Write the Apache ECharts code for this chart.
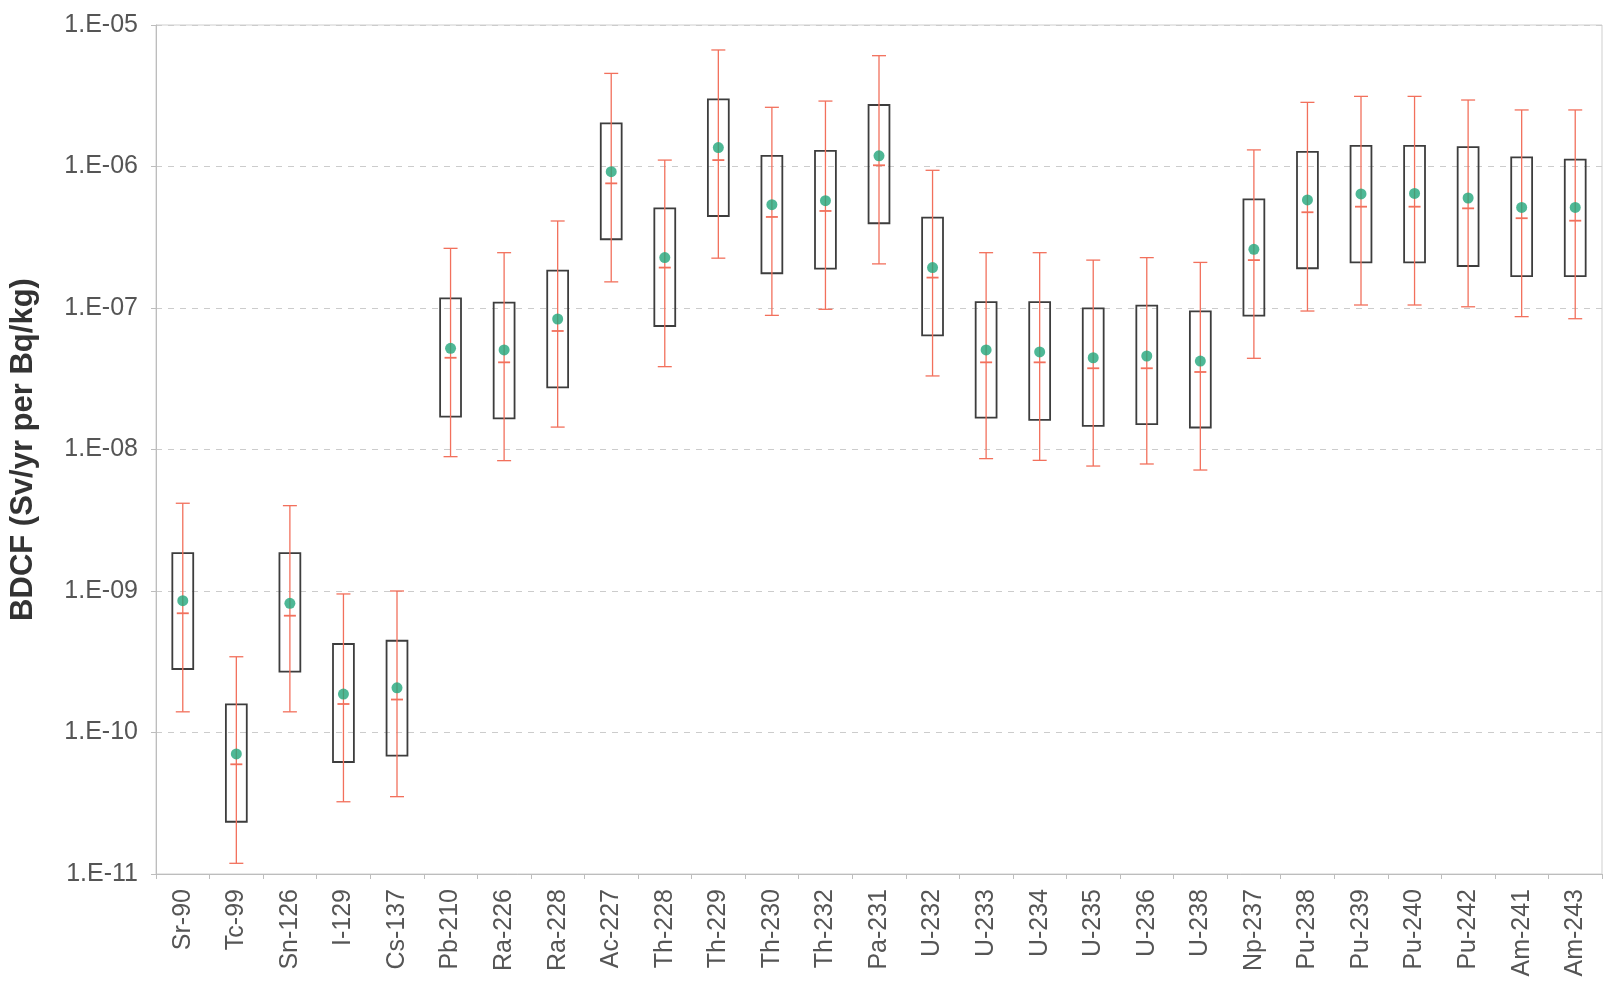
<!DOCTYPE html>
<html>
<head>
<meta charset="utf-8">
<title>BDCF</title>
<script src="https://cdn.jsdelivr.net/npm/echarts@6/dist/echarts.min.js"></script>
<style>
  html, body { margin: 0; padding: 0; background: #fff; }
  #chart { width: 1612px; height: 992px; }
</style>
</head>
<body>
<div id="chart"></div>
<script>
// nuclides on the x axis
var categories = ['Sr-90', 'Tc-99', 'Sn-126', 'I-129', 'Cs-137', 'Pb-210', 'Ra-226', 'Ra-228', 'Ac-227',
  'Th-228', 'Th-229', 'Th-230', 'Th-232', 'Pa-231', 'U-232', 'U-233', 'U-234', 'U-235', 'U-236', 'U-238',
  'Np-237', 'Pu-238', 'Pu-239', 'Pu-240', 'Pu-242', 'Am-241', 'Am-243'];

// whisker ends
var whiskerHigh = [4.17e-9, 3.43e-10, 4.01e-9, 9.53e-10, 1.00e-9, 2.64e-7, 2.46e-7, 4.12e-7, 4.55e-6,
  1.11e-6, 6.66e-6, 2.62e-6, 2.90e-6, 6.07e-6, 9.4e-7, 2.46e-7, 2.46e-7, 2.18e-7, 2.27e-7, 2.10e-7,
  1.31e-6, 2.84e-6, 3.13e-6, 3.13e-6, 2.95e-6, 2.51e-6, 2.51e-6];
var whiskerLow = [1.40e-10, 1.19e-11, 1.40e-10, 3.24e-11, 3.52e-11, 8.9e-9, 8.34e-9, 1.44e-8, 1.53e-7,
  3.85e-8, 2.25e-7, 8.87e-8, 9.79e-8, 2.05e-7, 3.31e-8, 8.62e-9, 8.38e-9, 7.64e-9, 7.9e-9, 7.16e-9,
  4.41e-8, 9.52e-8, 1.05e-7, 1.05e-7, 1.02e-7, 8.69e-8, 8.4e-8];

// box edges
var boxHigh = [1.85e-9, 1.58e-10, 1.85e-9, 4.22e-10, 4.45e-10, 1.17e-7, 1.09e-7, 1.84e-7, 2.02e-6,
  5.06e-7, 2.98e-6, 1.19e-6, 1.29e-6, 2.72e-6, 4.35e-7, 1.10e-7, 1.10e-7, 9.95e-8, 1.04e-7, 9.48e-8,
  5.86e-7, 1.27e-6, 1.40e-6, 1.40e-6, 1.37e-6, 1.16e-6, 1.12e-6];
var boxLow = [2.81e-10, 2.34e-11, 2.69e-10, 6.19e-11, 6.86e-11, 1.71e-8, 1.66e-8, 2.75e-8, 3.06e-7,
  7.46e-8, 4.47e-7, 1.76e-7, 1.90e-7, 3.97e-7, 6.41e-8, 1.68e-8, 1.62e-8, 1.47e-8, 1.51e-8, 1.43e-8,
  8.83e-8, 1.91e-7, 2.10e-7, 2.10e-7, 1.98e-7, 1.68e-7, 1.68e-7];

// red tick inside the box
var median = [6.96e-10, 5.96e-11, 6.69e-10, 1.59e-10, 1.71e-10, 4.45e-8, 4.13e-8, 6.88e-8, 7.6e-7,
  1.93e-7, 1.11e-6, 4.40e-7, 4.85e-7, 1.02e-6, 1.64e-7, 4.13e-8, 4.13e-8, 3.75e-8, 3.75e-8, 3.53e-8,
  2.18e-7, 4.75e-7, 5.20e-7, 5.20e-7, 5.06e-7, 4.31e-7, 4.14e-7];

// green dots
var mean = [8.55e-10, 7.05e-11, 8.19e-10, 1.87e-10, 2.07e-10, 5.19e-8, 5.05e-8, 8.36e-8, 9.19e-7,
  2.27e-7, 1.36e-6, 5.37e-7, 5.73e-7, 1.19e-6, 1.93e-7, 5.05e-8, 4.89e-8, 4.45e-8, 4.58e-8, 4.22e-8,
  2.60e-7, 5.80e-7, 6.40e-7, 6.45e-7, 5.99e-7, 5.14e-7, 5.14e-7];

var redColor = '#f2705c';
var boxColor = '#3d3d3d';

var boxData = categories.map(function (c, i) {
  return [i, whiskerLow[i], boxLow[i], median[i], boxHigh[i], whiskerHigh[i]];
});

function renderBox(params, api) {
  var i = api.value(0);
  var lo = api.coord([i, api.value(1)]);
  var q1 = api.coord([i, api.value(2)]);
  var md = api.coord([i, api.value(3)]);
  var q3 = api.coord([i, api.value(4)]);
  var hi = api.coord([i, api.value(5)]);
  var band = params.coordSys.width / categories.length;
  var bw = band * 0.39;
  var cap = 7;
  var mt = 6;
  var x = lo[0];
  var red = { stroke: redColor, lineWidth: 1.3 };
  return {
    type: 'group',
    children: [
      { type: 'rect', shape: { x: x - bw / 2, y: q3[1], width: bw, height: q1[1] - q3[1] },
        style: { fill: 'none', stroke: boxColor, lineWidth: 1.8 } },
      { type: 'line', shape: { x1: x, y1: hi[1], x2: x, y2: lo[1] }, style: red },
      { type: 'line', shape: { x1: x - cap, y1: hi[1], x2: x + cap, y2: hi[1] }, style: red },
      { type: 'line', shape: { x1: x - cap, y1: lo[1], x2: x + cap, y2: lo[1] }, style: red },
      { type: 'line', shape: { x1: x - mt, y1: md[1], x2: x + mt, y2: md[1] }, style: { stroke: redColor, lineWidth: 1.8 } }
    ]
  };
}

function expLabel(v) {
  var e = Math.round(Math.log10(v));
  var s = String(Math.abs(e));
  if (s.length < 2) s = '0' + s;
  return '1.E' + (e < 0 ? '-' : '+') + s;
}

var chart = echarts.init(document.getElementById('chart'));

var option = {
  backgroundColor: '#fff',
  animation: false,
  textStyle: { fontFamily: 'Liberation Sans, Arial, sans-serif' },
  grid: {
    left: 154, right: 10, top: 25, bottom: 118,
    show: true, borderColor: '#cfcfcf', borderWidth: 1
  },
  xAxis: {
    type: 'category',
    data: categories,
    boundaryGap: true,
    axisLine: { lineStyle: { color: '#bdbdbd' } },
    axisTick: { show: true, length: 5, lineStyle: { color: '#bdbdbd' } },
    axisLabel: { rotate: 90, fontSize: 25, color: '#555', margin: 15, interval: 0 },
    splitLine: { show: false }
  },
  yAxis: {
    type: 'log',
    logBase: 10,
    min: 1e-11,
    max: 1e-5,
    splitNumber: 6,
    name: 'BDCF (Sv/yr per Bq/kg)',
    nameLocation: 'middle',
    nameGap: 117,
    nameTextStyle: { fontSize: 31, fontWeight: 'bold', color: '#333' },
    axisLine: { show: true, lineStyle: { color: '#bdbdbd' } },
    axisTick: { show: true, length: 5, lineStyle: { color: '#bdbdbd' } },
    axisLabel: { fontSize: 25, color: '#555', margin: 18, formatter: expLabel },
    splitLine: { show: true, lineStyle: { color: '#cccccc', type: [6, 6] } }
  },
  series: [
    {
      type: 'custom',
      name: 'range',
      renderItem: renderBox,
      data: boxData,
      encode: { x: 0, y: [1, 2, 3, 4, 5] },
      z: 2
    },
    {
      type: 'scatter',
      name: 'mean',
      data: mean,
      symbol: 'circle',
      symbolSize: 11,
      itemStyle: { color: '#22a67c' },
      z: 3
    }
  ]
};

chart.setOption(option);
</script>
</body>
</html>
